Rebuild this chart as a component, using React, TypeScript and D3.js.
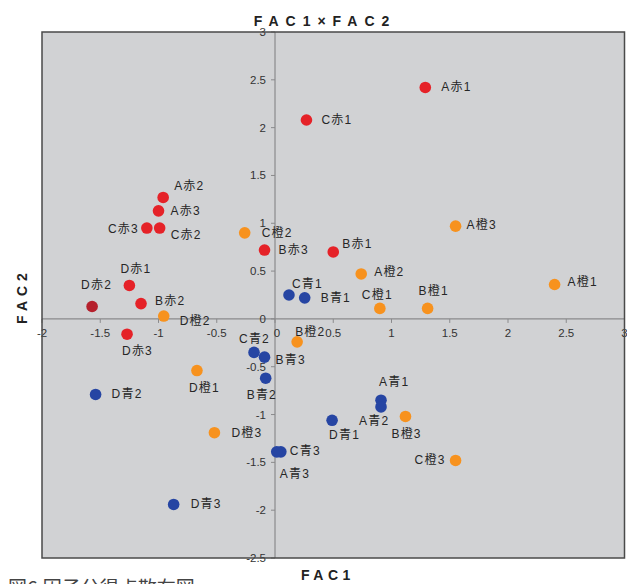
import React from "react";
import * as d3 from "d3";

// ---- data ----
const names = [
  "A赤1", "C赤1", "A赤2", "A赤3", "C赤3", "C赤2", "B赤3", "B赤1", "D赤1", "B赤2", "D赤2", "D赤3",
  "A橙3", "C橙2", "A橙2", "A橙1", "C橙1", "B橙1", "D橙2", "B橙2", "D橙1", "D橙3", "B橙3", "C橙3",
  "C青1", "B青1", "C青2", "B青3", "B青2", "D青2", "A青1", "A青2", "D青1", "C青3", "A青3", "D青3",
];
const fac1 = [
  1.29, 0.27, -0.96, -1.0, -1.1, -0.99, -0.09, 0.5, -1.25, -1.15, -1.57, -1.27,
  1.55, -0.26, 0.74, 2.4, 0.9, 1.31, -0.955, 0.19, -0.67, -0.52, 1.12, 1.55,
  0.12, 0.255, -0.18, -0.09, -0.08, -1.54, 0.91, 0.91, 0.49, 0.05, 0.015, -0.87,
];
const fac2 = [
  2.42, 2.08, 1.27, 1.13, 0.95, 0.95, 0.72, 0.7, 0.35, 0.16, 0.13, -0.16,
  0.97, 0.9, 0.47, 0.36, 0.11, 0.11, 0.03, -0.24, -0.54, -1.19, -1.02, -1.48,
  0.25, 0.22, -0.35, -0.4, -0.62, -0.79, -0.85, -0.92, -1.06, -1.39, -1.39, -1.94,
];
const xTicks = [-2, -1.5, -1, -0.5, 0, 0.5, 1, 1.5, 2, 2.5, 3];
const yTicks = [-2.5, -2, -1.5, -1, -0.5, 0, 0.5, 1, 1.5, 2, 2.5, 3];
const title = "FAC1×FAC2";
const xTitle = "FAC1";
const yTitle = "FAC2";
const caption = "図6:因子分得点散布図";

// ---- styles / layout ----
const groupColor: Record<string, string> = { 赤: "#e52228", 橙: "#f7921e", 青: "#2645a3" };
const colorOverride: Record<string, string> = { D赤2: "#b5202c" };
// [dx, dy, anchor]
const labelPlace: Record<string, [number, number, string]> = {
  A赤1: [16, 0, "start"], C赤1: [15, 0, "start"], A赤2: [11, -11, "start"], A赤3: [12, 0, "start"],
  C赤3: [-8, 1, "end"], C赤2: [11, 7, "start"], B赤3: [14, 0, "start"], B赤1: [9, -8, "start"],
  D赤1: [-9, -16, "start"], B赤2: [14, -3, "start"], D赤2: [-11, -21, "start"], D赤3: [-5, 17, "start"],
  A橙3: [11, -1, "start"], C橙2: [17, 0, "start"], A橙2: [13, -2, "start"], A橙1: [13, -2, "start"],
  C橙1: [-18, -13, "start"], B橙1: [-9, -17, "start"], D橙2: [16, 5, "start"], B橙2: [-2, -10, "start"],
  D橙1: [-8, 17, "start"], D橙3: [17, 0, "start"], B橙3: [-14, 18, "start"], C橙3: [-10, 0, "end"],
  C青1: [3, -11, "start"], B青1: [16, 0, "start"], C青2: [-15, -13, "start"], B青3: [11, 3, "start"],
  B青2: [-19, 17, "start"], D青2: [16, 0, "start"], A青1: [-2, -18, "start"], A青2: [-22, 14, "start"],
  D青1: [-3, 15, "start"], C青3: [9, -1, "start"], A青3: [3, 22, "start"], D青3: [17, 0, "start"],
};

const W = 627;
const H = 584;
const plot = { left: 42, right: 624.5, top: 32, bottom: 558 };
const labelFont = "'Liberation Sans', Arial, 'Noto Sans CJK JP', sans-serif";

export default function App() {
  const x = d3.scaleLinear().domain([-2, 3]).range([plot.left, plot.right]);
  const y = d3.scaleLinear().domain([-2.5, 3]).range([plot.bottom, plot.top]);
  const x0 = x(0);
  const y0 = y(0);
  const fmt = (v: number) => String(v);

  return (
    <svg
      width={W}
      height={H}
      style={{ position: "absolute", left: 0, top: 0, background: "#fff" }}
    >
      <rect
        x={plot.left}
        y={plot.top}
        width={plot.right - plot.left}
        height={plot.bottom - plot.top}
        fill="#d1d2d4"
      />
      {/* axes through origin */}
      <line x1={plot.left} x2={plot.right} y1={y0} y2={y0} stroke="#8a8a8c" strokeWidth={1.2} />
      <line x1={x0} x2={x0} y1={plot.top} y2={plot.bottom} stroke="#8a8a8c" strokeWidth={1.2} />
      {xTicks.map((t) => (
        <g key={"xt" + t}>
          <line x1={x(t)} x2={x(t)} y1={y0} y2={y0 + 4} stroke="#8a8a8c" />
          <text
            x={x(t) + (t === 0 ? 2 : 0)}
            y={y0 + 14}
            textAnchor="middle"
            dominantBaseline="central"
            fontSize={11.5}
            fontFamily={labelFont}
            fill="#333"
          >
            {fmt(t)}
          </text>
        </g>
      ))}
      {yTicks.map((t) => (
        <g key={"yt" + t}>
          <line x1={x0 - 4} x2={x0} y1={y(t)} y2={y(t)} stroke="#8a8a8c" />
          <text
            x={x0 - 9}
            y={y(t)}
            textAnchor="end"
            dominantBaseline="central"
            fontSize={11.5}
            fontFamily={labelFont}
            fill="#333"
          >
            {fmt(t)}
          </text>
        </g>
      ))}
      {/* frame */}
      <rect
        x={plot.left}
        y={plot.top}
        width={plot.right - plot.left}
        height={plot.bottom - plot.top}
        fill="none"
        stroke="#4a4a4a"
        strokeWidth={1.5}
      />
      {/* points */}
      {names.map((n, i) => {
        const g = n.includes("赤") ? "赤" : n.includes("橙") ? "橙" : "青";
        const c = colorOverride[n] || groupColor[g];
        return <circle key={"p" + n} cx={x(fac1[i])} cy={y(fac2[i])} r={5.8} fill={c} />;
      })}
      {/* labels */}
      {names.map((n, i) => {
        const [dx, dy, anchor] = labelPlace[n] || [12, 0, "start"];
        return (
          <text
            key={"l" + n}
            x={x(fac1[i]) + dx}
            y={y(fac2[i]) + dy}
            textAnchor={anchor as any}
            dominantBaseline="central"
            fontSize={12}
            letterSpacing={1.2}
            fontFamily={labelFont}
            fill="#262626"
          >
            {n}
          </text>
        );
      })}
      {/* titles */}
      <text
        x={325}
        y={21}
        textAnchor="middle"
        dominantBaseline="central"
        fontSize={14}
        fontWeight="bold"
        letterSpacing={7}
        fontFamily={labelFont}
        fill="#222"
      >
        {title}
      </text>
      <text
        x={328}
        y={575}
        textAnchor="middle"
        dominantBaseline="central"
        fontSize={14}
        fontWeight="bold"
        letterSpacing={4.5}
        fontFamily={labelFont}
        fill="#222"
      >
        {xTitle}
      </text>
      <text
        transform={`translate(22, ${296}) rotate(-90)`}
        textAnchor="middle"
        dominantBaseline="central"
        fontSize={14}
        fontWeight="bold"
        letterSpacing={5}
        fontFamily={labelFont}
        fill="#222"
      >
        {yTitle}
      </text>
      <text
        x={8}
        y={595}
        fontSize={19}
        fontFamily={"'Noto Sans CJK JP', sans-serif"}
        fill="#444"
      >
        {caption}
      </text>
    </svg>
  );
}
